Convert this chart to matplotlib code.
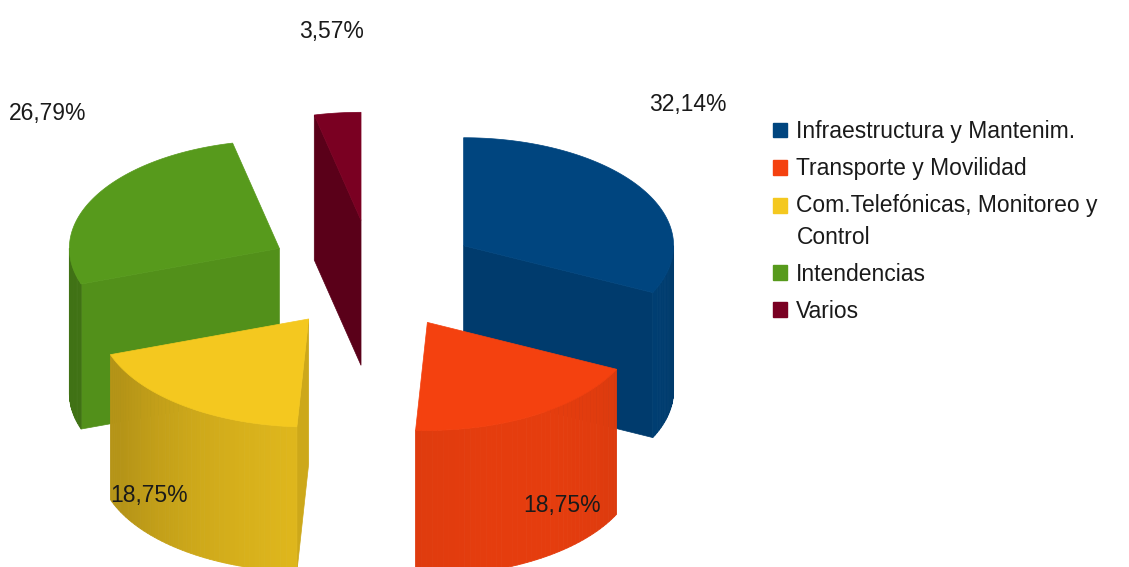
import numpy as np
import matplotlib.pyplot as plt
from matplotlib.patches import Polygon, Patch, Rectangle
from matplotlib.legend_handler import HandlerPatch
from matplotlib.colors import to_rgb

# data (counts -> shares in %)
categories = ["Infraestructura y Mantenim.", "Transporte y Movilidad",
              "Com.Telefónicas, Monitoreo y\nControl", "Intendencias", "Varios"]
counts = [36, 21, 21, 30, 4]
colors = ["#00457f", "#f4410f", "#f4c81f", "#579a1c", "#7a0022"]

plt.rcParams['font.family'] = ['Liberation Sans', 'DejaVu Sans']

W, H = 1129, 567
fig = plt.figure(figsize=(W / 100, H / 100), dpi=100)
ax = fig.add_axes([0, 0, 1, 1])
ax.set_xlim(0, W)
ax.set_ylim(H, 0)
ax.axis("off")

# 3d pie geometry in pixel space (top face ellipse, thickness, explode)
cx, cy = 373, 275
rx, ry = 210, 108
depth = 145
explode = 107
lamp = np.array([0.45, -0.89])   # light from front-right

total = sum(counts)
shares = [c / total * 100 for c in counts]
bounds = np.concatenate([[0], np.cumsum(counts) / total * 360])


def shade(col, f):
    r, g, b = to_rgb(col)
    return (r * f, g * f, b * f)


def light(n):
    # n: (x, depth) normal of a vertical face, depth < 0 faces the viewer
    return 0.74 + 0.2 * max(0.0, float(np.dot(n, lamp)))


def rim(x0, y0, t, dz=0):
    t = np.radians(t)
    return x0 + rx * np.sin(t), y0 - ry * np.cos(t) + dz


slices = []
for i, c in enumerate(counts):
    a0, a1 = bounds[i], bounds[i + 1]
    mid = np.radians((a0 + a1) / 2)
    x0 = cx + explode * np.sin(mid)
    y0 = cy - explode * (ry / rx) * np.cos(mid)
    slices.append((y0, i, a0, a1, x0))

# back to front
for y0, i, a0, a1, x0 in sorted(slices):
    col = colors[i]
    # radial cut faces
    for ang, side in ((a0, -1), (a1, 1)):
        t = np.radians(ang)
        n = np.array([side * np.cos(t), -side * np.sin(t)])
        if n[1] < -1e-6:
            fc = shade(col, light(n))
            px, py = rim(x0, y0, ang)
            poly = [(x0, y0), (px, py), (px, py + depth), (x0, y0 + depth)]
            ax.add_patch(Polygon(poly, closed=True, fc=fc, ec=fc, lw=0.5))
    # outer wall, front half only
    s, e = max(a0, 90), min(a1, 270)
    if e > s:
        steps = np.linspace(s, e, int((e - s) / 1.5) + 2)
        for u, v in zip(steps[:-1], steps[1:]):
            m = np.radians((u + v) / 2)
            fc = shade(col, light(np.array([np.sin(m), np.cos(m)])))
            p1, p2 = rim(x0, y0, u), rim(x0, y0, v)
            poly = [p1, p2, (p2[0], p2[1] + depth), (p1[0], p1[1] + depth)]
            ax.add_patch(Polygon(poly, closed=True, fc=fc, ec=fc, lw=0.6))
    # top face
    arc = np.linspace(a0, a1, 80)
    xs, ys = rim(x0, y0, arc)
    poly = [(x0, y0)] + list(zip(xs, ys))
    ax.add_patch(Polygon(poly, closed=True, fc=col, ec=col, lw=0.5))

# percentage labels
for i in range(len(counts)):
    mid = np.radians((bounds[i] + bounds[i + 1]) / 2)
    lx = cx + 372 * np.sin(mid)
    cm = np.cos(mid)
    ly = cy + 3 - 247 * np.sign(cm) * abs(cm) ** 0.56
    txt = f"{shares[i]:.2f}%".replace(".", ",")
    ax.text(lx, ly, txt, fontsize=16.5, color="#1a1a1a", ha="center", va="center")


# square marker kept on the first line of a wrapped legend label
def top_square(legend, orig_handle, xdescent, ydescent, width, height, fontsize):
    lift = 0.5 * 1.45 * fontsize * orig_handle.get_label().count("\n")
    return Rectangle((-xdescent, -ydescent + lift), width, height)


handles = [Patch(facecolor=c, edgecolor=c, label=lab) for c, lab in zip(colors, categories)]
leg = fig.legend(handles=handles, loc="upper left",
                 bbox_to_anchor=(773 / W, 1 - 120 / H), frameon=False,
                 fontsize=16.5, handlelength=0.62, handleheight=0.62,
                 handletextpad=0.4, labelspacing=0.62, borderpad=0,
                 borderaxespad=0, labelcolor="#1a1a1a",
                 handler_map={Patch: HandlerPatch(patch_func=top_square)})
for t in leg.get_texts():
    t.set_linespacing(1.45)

fig.savefig("out.png", dpi=100)
